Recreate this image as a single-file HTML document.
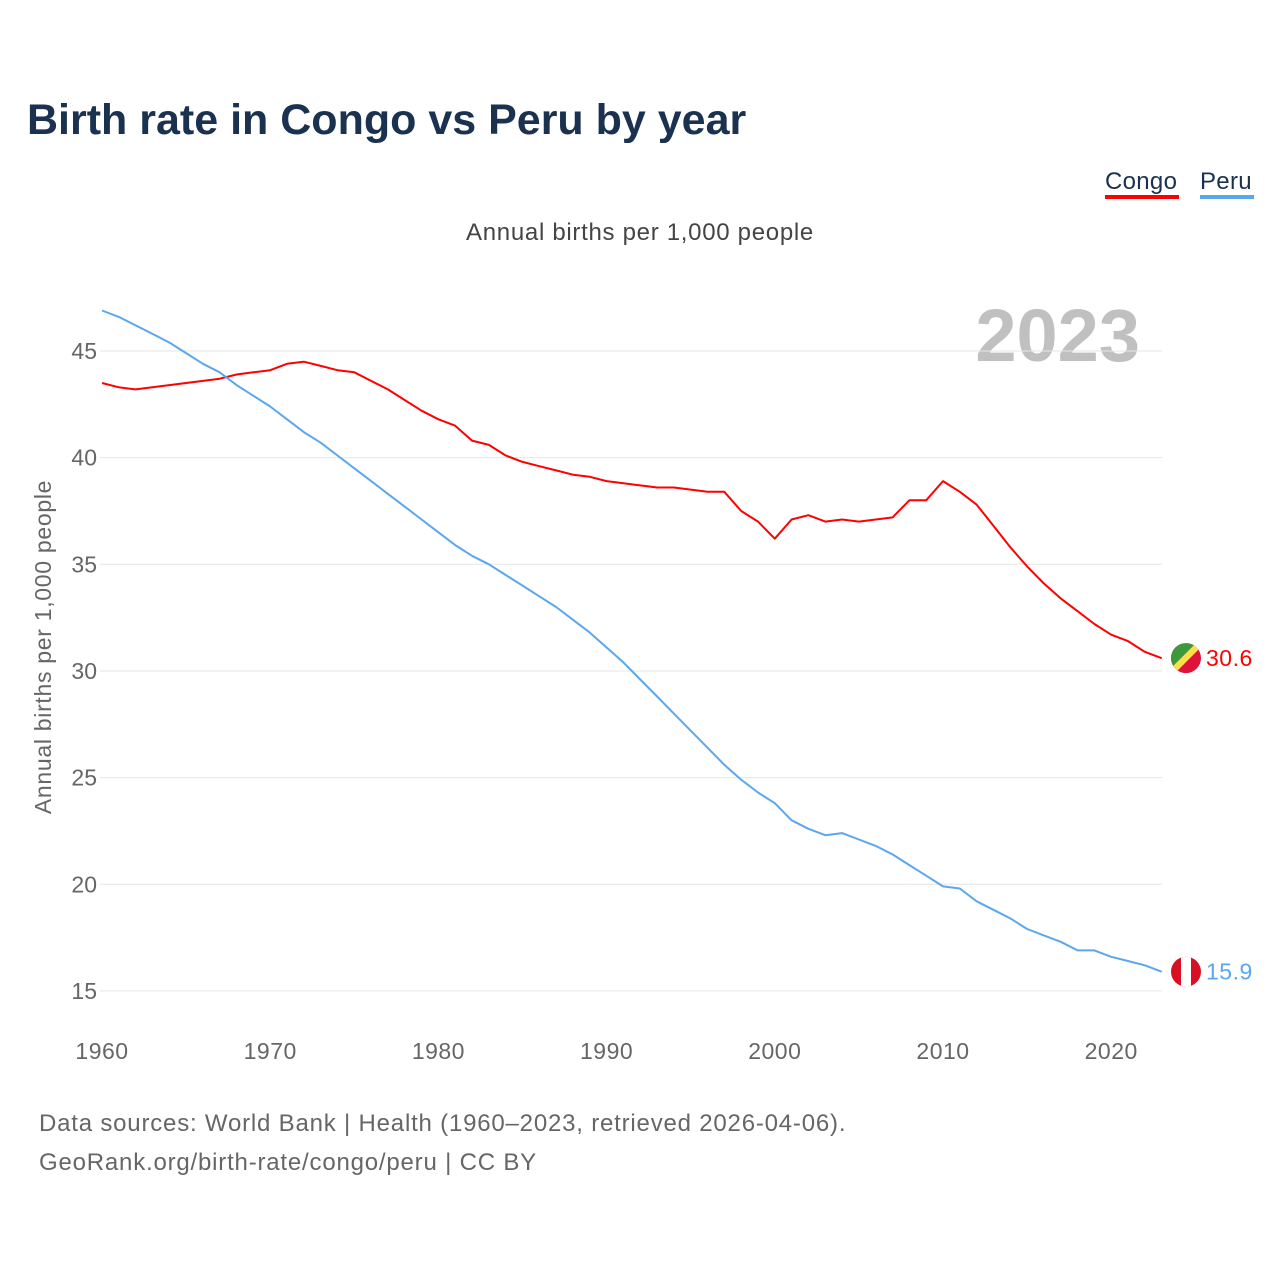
<!DOCTYPE html>
<html><head><meta charset="utf-8">
<style>
body{margin:0;background:#fff;font-family:"Liberation Sans",sans-serif;}
svg text{font-family:"Liberation Sans",sans-serif;}
</style></head>
<body>
<svg id="chart" width="1280" height="1280" viewBox="0 0 1280 1280" xmlns="http://www.w3.org/2000/svg">
<text x="27" y="134" font-size="43" font-weight="bold" fill="#1a3150">Birth rate in Congo vs Peru by year</text>
<g>
<text x="1105" y="189" font-size="24" fill="#1a3150" letter-spacing="0.3">Congo</text>
<rect x="1105" y="195" width="74" height="4" fill="#ff0000"/>
<text x="1200" y="189" font-size="24" fill="#1a3150" letter-spacing="0.3">Peru</text>
<rect x="1200" y="195" width="54" height="4" fill="#5ba7ee"/>
</g>
<text x="640" y="240" font-size="24" fill="#444" text-anchor="middle" letter-spacing="0.7">Annual births per 1,000 people</text>
<text x="1140" y="361" font-size="74" font-weight="bold" fill="#c0c0c0" text-anchor="end">2023</text>
<text transform="translate(51,647) rotate(-90)" font-size="23" fill="#666" text-anchor="middle" letter-spacing="0.7">Annual births per 1,000 people</text>
<g id="grid"></g>
<g id="yticks"></g>
<g id="xticks"></g>
<g id="series"></g>
<text x="39" y="1131" font-size="24" fill="#666" letter-spacing="0.8">Data sources: World Bank | Health (1960–2023, retrieved 2026-04-06).</text>
<text x="39" y="1170" font-size="24" fill="#666" letter-spacing="0.8">GeoRank.org/birth-rate/congo/peru | CC BY</text>
</svg>
<script>
const years = [];
for (let y = 1960; y <= 2023; y++) years.push(y);
const congo = [43.5,43.3,43.2,43.3,43.4,43.5,43.6,43.7,43.9,44.0,44.1,44.4,44.5,44.3,44.1,44.0,43.6,43.2,42.7,42.2,41.8,41.5,40.8,40.6,40.1,39.8,39.6,39.4,39.2,39.1,38.9,38.8,38.7,38.6,38.6,38.5,38.4,38.4,37.5,37.0,36.2,37.1,37.3,37.0,37.1,37.0,37.1,37.2,38.0,38.0,38.9,38.4,37.8,36.8,35.8,34.9,34.1,33.4,32.8,32.2,31.7,31.4,30.9,30.6];
const peru = [46.9,46.6,46.2,45.8,45.4,44.9,44.4,44.0,43.4,42.9,42.4,41.8,41.2,40.7,40.1,39.5,38.9,38.3,37.7,37.1,36.5,35.9,35.4,35.0,34.5,34.0,33.5,33.0,32.4,31.8,31.1,30.4,29.6,28.8,28.0,27.2,26.4,25.6,24.9,24.3,23.8,23.0,22.6,22.3,22.4,22.1,21.8,21.4,20.9,20.4,19.9,19.8,19.2,18.8,18.4,17.9,17.6,17.3,16.9,16.9,16.6,16.4,16.2,15.9];
const yTicks = [15,20,25,30,35,40,45];
const xTicks = [1960,1970,1980,1990,2000,2010,2020];

const NS = "http://www.w3.org/2000/svg";
const xS = v => 102 + (v - 1960) * 16.82;
const yS = v => 351 + (45 - v) * 21.33;
function mk(tag, attrs, parent) {
  const e = document.createElementNS(NS, tag);
  for (const k in attrs) e.setAttribute(k, attrs[k]);
  parent.appendChild(e);
  return e;
}
const grid = document.getElementById('grid');
const yt = document.getElementById('yticks');
const xt = document.getElementById('xticks');
const ser = document.getElementById('series');
yTicks.forEach(t => {
  const l = mk('line', {x1: 100, x2: 1162, y1: yS(t), y2: yS(t), stroke: '#e6e6e6', 'stroke-width': 1}, grid);
  
  
  const tx = mk('text', {x: 97, y: yS(t) + 8, 'font-size': 23, fill: '#666', 'text-anchor': 'end'}, yt);
  tx.textContent = t;
  
  
});
xTicks.forEach(t => {
  const tx = mk('text', {x: xS(t), y: 1059, 'font-size': 23, fill: '#666', 'text-anchor': 'middle', 'letter-spacing': 0.5}, xt);
  tx.textContent = t;
  
  
});
function line(vals, color, name) {
  const d = vals.map((v, i) => (i ? 'L' : 'M') + xS(years[i]).toFixed(1) + ',' + yS(v).toFixed(1)).join('');
  const p = mk('path', {d: d, fill: 'none', stroke: color, 'stroke-width': 2, 'stroke-linejoin': 'round'}, ser);
  
  
  const last = vals[vals.length - 1];
  const lbl = mk('text', {x: 1206, y: yS(last) + 8, 'font-size': 23, fill: color, 'letter-spacing': 0.5}, ser);
  lbl.textContent = last.toFixed(1);
  
  
  return yS(last);
}
const cy = line(congo, '#ff0000', 'congo');
const py = line(peru, '#5ba7ee', 'peru');
const cg = mk('g', {}, ser);


const clip1 = mk('clipPath', {id: 'cc'}, cg);
mk('circle', {cx: 1186, cy: cy, r: 15}, clip1);
const fg = mk('g', {'clip-path': 'url(#cc)'}, cg);
mk('rect', {x: 1171, y: cy - 15, width: 30, height: 30, fill: '#dc143c'}, fg);
mk('polygon', {points: `1171,${cy-15} 1196,${cy-15} 1171,${cy+10}`, fill: '#3a9a3a'}, fg);
mk('polygon', {points: `1196,${cy-15} 1205,${cy-15} 1171,${cy+19} 1171,${cy+10}`, fill: '#fbde4a'}, fg);
const pg = mk('g', {}, ser);


const clip2 = mk('clipPath', {id: 'pc'}, pg);
mk('circle', {cx: 1186, cy: py, r: 15}, clip2);
const fg2 = mk('g', {'clip-path': 'url(#pc)'}, pg);
mk('rect', {x: 1171, y: py - 15, width: 30, height: 30, fill: '#d91023'}, fg2);
mk('rect', {x: 1181, y: py - 15, width: 10, height: 30, fill: '#fff'}, fg2);
</script>
</body></html>
